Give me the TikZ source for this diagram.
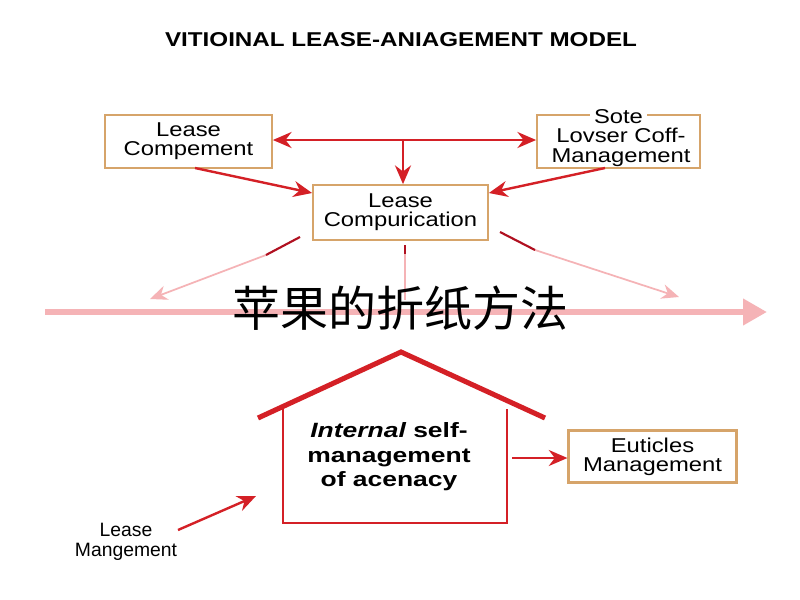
\documentclass[tikz,border=0pt]{standalone}
\usepackage{fontspec}
\setmainfont{Liberation Sans}
\newfontfamily\wide[FakeStretch=1.19]{Liberation Sans}
\newfontfamily\widebold[FakeStretch=1.28]{Liberation Sans Bold}
\newfontfamily\widebi[FakeStretch=1.28]{Liberation Sans Bold Italic}
\newfontfamily\titlefont[FakeStretch=1.21]{Liberation Sans Bold}
\newfontfamily\cjk{Noto Sans CJK SC}
\usetikzlibrary{arrows.meta}
\definecolor{boxline}{HTML}{D6A46A}
\definecolor{myred}{HTML}{D42026}
\definecolor{dred}{HTML}{B01020}
\definecolor{mypink}{HTML}{F5B3B6}
\tikzset{
  lbox/.style={draw=boxline, line width=1.6pt, fill=white, align=center, font=\wide\fontsize{15}{14.5}\selectfont, inner sep=0pt},
  btext/.style={align=center, font=\wide\fontsize{15}{14.5}\selectfont, inner sep=0pt},
  redarrow/.style={draw=myred, line width=1.8pt, -{Stealth[length=14pt,width=12pt]}},
  pinkarrow/.style={draw=mypink, line width=1.3pt, -{Stealth[length=13pt,width=11pt]}},
  darkseg/.style={draw=dred, line width=1.6pt},
  plain/.style={align=center, font=\fontsize{14.5}{14.5}\selectfont, inner sep=0pt},
}
\begin{document}
\begin{tikzpicture}[x=0.75pt, y=-0.75pt]
\useasboundingbox (0,0) rectangle (800,600);
\fill[white] (0,0) rectangle (800,600);

% title
\node[font=\titlefont\fontsize{15}{16}\selectfont] (title) at (401,40) {VITIOINAL LEASE-ANIAGEMENT MODEL};

% top boxes
\node[lbox, minimum width=125pt, minimum height=40pt] (lc) at (188.5,141.5) {Lease\\Compement};
\node[lbox, minimum width=122pt, minimum height=40pt] (sl) at (618.5,141.5) {};
\node[btext, fill=white, inner xsep=3pt, inner ysep=0pt] (sote) at (618.5,117) {Sote};
\node[btext] (slt) at (621,147.5) {Lovser Coff-\\Management};
\node[lbox, minimum width=131pt, minimum height=41pt] (lcomp) at (400.5,212.5) {Lease\\Compurication};

% top connectors
\coordinate (hub) at (403,140);
\draw[redarrow] (hub) -- (lc.east |- hub);
\draw[redarrow] (hub) -- (sl.west |- hub);
\draw[redarrow] (hub) -- (hub |- lcomp.north);
\draw[redarrow] (195,168) -- (lcomp.west |- 0,193);
\draw[redarrow] (605,168) -- (lcomp.east |- 0,193);

% faded arrows
\coordinate (fl1) at (300,237);
\coordinate (fl2) at (266,255);
\coordinate (fl3) at (150,299);
\draw[pinkarrow] (fl2) -- (fl3);
\draw[darkseg] (fl1) -- (fl2);
\coordinate (fm1) at (405,245);
\coordinate (fm2) at (405,254);
\coordinate (fm3) at (405,300);
\draw[draw=mypink, line width=1.3pt] (fm2) -- (fm3);
\draw[darkseg] (fm1) -- (fm2);
\coordinate (fr1) at (500,232);
\coordinate (fr2) at (535,250);
\coordinate (fr3) at (679,297);
\draw[pinkarrow] (fr2) -- (fr3);
\draw[darkseg] (fr1) -- (fr2);

% big arrow
\coordinate (ba1) at (45,312);
\coordinate (ba2) at (767,312);
\draw[draw=mypink, line width=4.5pt, -{Triangle[length=18pt,width=19pt]}] (ba1) -- (ba2);

% chinese text
\node[font=\cjk\fontsize{36}{38}\selectfont, inner sep=0pt] (cn) at (400,308) {苹果的折纸方法};

% house
\coordinate (rl) at (258,418);
\coordinate (rt) at (401,352);
\coordinate (rr) at (545,418);
\draw[myred, line width=1.6pt] (283,409) -- (283,523) -- (507,523) -- (507,409);
\draw[myred, line width=3.8pt, line join=miter] (rl) -- (rt) -- (rr);
\node[align=center, font=\widebold\fontsize{15.5}{18.4}\selectfont, inner sep=0pt] (house) at (389,457) {{\widebi Internal} self-\\management\\of acenacy};

% right box
\node[lbox, minimum width=126pt, minimum height=39pt] (eu) at (652.5,456.5) {Euticles\\Management};
\draw[redarrow] (512,458) -- (eu.west |- 0,458);

% lower left
\node[plain] (lm) at (126,542) {Lease\\Mangement};
\draw[redarrow] (178,530) -- (256,496);
\end{tikzpicture}
\end{document}
